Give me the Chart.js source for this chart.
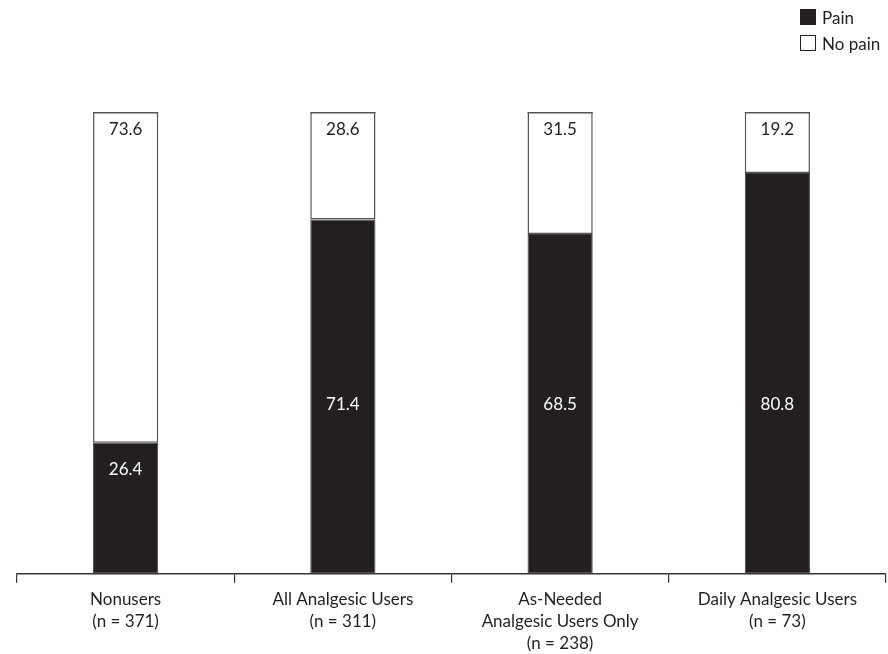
<!DOCTYPE html>
<html>
<head>
<meta charset="utf-8">
<script src="https://cdn.jsdelivr.net/npm/chart.js@4/dist/chart.umd.min.js"></script>
<style>
  html, body { margin: 0; padding: 0; background: #fff; }
  #wrap { position: relative; width: 888px; height: 654px; }
  #legend { position: absolute; left: 800px; top: 8px; font-family: Lato, "Open Sans", sans-serif; font-size: 17px; color: #231f20; }
  #legend div { display: flex; align-items: center; height: 18px; margin-bottom: 8px; }
  #legend span.box { width: 16px; height: 16px; border: 1.2px solid #231f20; margin-right: 6px; box-sizing: border-box; }
</style>
</head>
<body>
<div id="wrap">
  <canvas id="painChart" width="888" height="654"></canvas>
  <div id="legend"></div>
</div>
<script>
// Dados do gráfico
const categorias = [
    ['Nonusers', '(n = 371)'],
    ['All Analgesic Users', '(n = 311)'],
    ['As-Needed', 'Analgesic Users Only', '(n = 238)'],
    ['Daily Analgesic Users', '(n = 73)']
];
const pain = [26.4, 71.4, 68.5, 80.8];
const noPain = [73.6, 28.6, 31.5, 19.2];

const preto = '#231f20';
const fonte = 'Lato, "Open Sans", sans-serif';

// Rótulos de valor dentro das barras
const rotulosPlugin = {
    id: 'rotulos',
    afterDatasetsDraw(chart) {
        const ctx = chart.ctx;
        const area = chart.chartArea;
        ctx.save();
        ctx.font = '17px ' + fonte;
        ctx.textAlign = 'center';
        ctx.textBaseline = 'middle';
        chart.data.datasets.forEach((ds, di) => {
            const meta = chart.getDatasetMeta(di);
            meta.data.forEach((bar, i) => {
                let y;
                if (di === 0) {
                    y = Math.max(bar.y + 27, bar.base - 169);
                    ctx.fillStyle = '#ffffff';
                } else {
                    y = area.top + 18;
                    ctx.fillStyle = preto;
                    // borda superior da barra cortada
                    ctx.strokeStyle = '#555';
                    ctx.lineWidth = 1.5;
                    ctx.beginPath();
                    ctx.moveTo(bar.x - bar.width / 2, area.top + 0.75);
                    ctx.lineTo(bar.x + bar.width / 2, area.top + 0.75);
                    ctx.stroke();
                }
                ctx.fillText(ds.data[i].toFixed(1), bar.x, y);
            });
        });
        ctx.restore();
    }
};

const ctx = document.getElementById('painChart').getContext('2d');
const myChart = new Chart(ctx, {
    type: 'bar',
    data: {
        labels: categorias,
        datasets: [
            {
                label: 'Pain',
                data: pain,
                backgroundColor: preto,
                borderColor: '#444',
                borderWidth: 1,
                borderSkipped: false,
                barPercentage: 0.3,
                categoryPercentage: 1
            },
            {
                label: 'No pain',
                data: noPain,
                backgroundColor: '#ffffff',
                borderColor: '#555',
                borderWidth: 1.5,
                borderSkipped: false,
                barPercentage: 0.3,
                categoryPercentage: 1
            }
        ]
    },
    options: {
        responsive: false,
        animation: false,
        layout: { padding: { top: 112, left: 17, right: 2, bottom: -6 } },
        plugins: {
            legend: { display: false },
            tooltip: { enabled: false }
        },
        scales: {
            x: {
                stacked: true,
                offset: true,
                grid: {
                    offset: true,
                    drawOnChartArea: false,
                    drawTicks: true,
                    tickLength: 9,
                    color: '#333',
                    lineWidth: 1.2
                },
                border: { display: true, color: '#333', width: 1.5 },
                ticks: {
                    color: preto,
                    font: { family: fonte, size: 17, lineHeight: 1.28 },
                    padding: 6,
                    maxRotation: 0,
                    autoSkip: false
                }
            },
            y: {
                stacked: true,
                display: false,
                min: 0,
                max: 93.1
            }
        }
    },
    plugins: [rotulosPlugin]
});

// Legenda em HTML
const legenda = document.getElementById('legend');
myChart.data.datasets.forEach(ds => {
    const item = document.createElement('div');
    const box = document.createElement('span');
    box.className = 'box';
    box.style.background = ds.backgroundColor;
    item.appendChild(box);
    item.appendChild(document.createTextNode(ds.label));
    legenda.appendChild(item);
});
</script>
</body>
</html>
